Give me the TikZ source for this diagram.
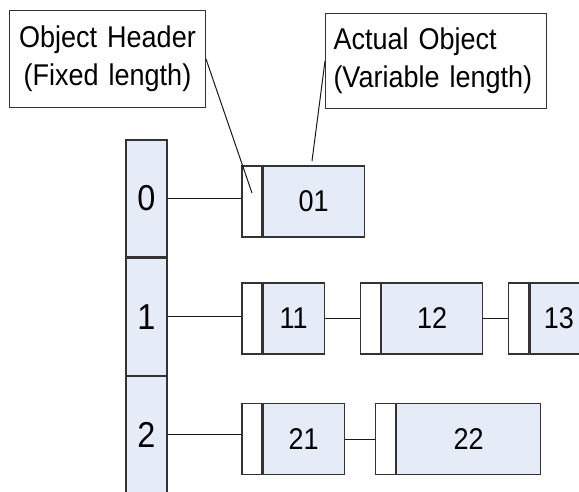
\documentclass[tikz,border=0pt]{standalone}
\usepackage{fontspec}
\setmainfont{Liberation Sans}[FakeStretch=0.9]
\usetikzlibrary{positioning}
\definecolor{objblue}{RGB}{230,236,247}

\begin{document}
\begin{tikzpicture}[x=1pt, y=-1pt, node distance=0pt and 30pt, font=\fontsize{30}{38}\selectfont]
\tikzstyle{slot} = [rectangle, draw=black!80, line width=1.2pt, fill=objblue, minimum width=41pt, minimum height=117pt, inner sep=0pt, font=\fontsize{36}{40}\selectfont]
\tikzstyle{hdr} = [rectangle, draw=black!80, line width=1.2pt, fill=white, minimum width=20pt, minimum height=71pt, inner sep=0pt]
\tikzstyle{body} = [rectangle, draw=black!80, line width=1.2pt, fill=objblue, minimum height=71pt, inner sep=0pt]
\tikzstyle{callout} = [rectangle, draw=black!80, line width=1pt, fill=white, inner ysep=6pt, anchor=north west]
\tikzstyle{link} = [black!90, line width=1pt]
\useasboundingbox (0,0) rectangle (579,491);
\clip (0,0) rectangle (579,491);
  % index column
  \node[slot] (s0) at (146.5,198.5) {0};
  \node[slot, below=of s0] (s1) {1};
  \node[slot, below=of s1] (s2) {2};
  % row 0
  \node[hdr] (h01) at (252,201.5) {};
  \node[body, minimum width=101pt, right=0pt of h01] (o01) {01};
  % row 1
  \node[hdr] (h11) at (252,318.5) {};
  \node[body, minimum width=61pt, right=0pt of h11] (o11) {11};
  \node[hdr, right=35pt of o11] (h12) {};
  \node[body, minimum width=101pt, right=0pt of h12] (o12) {12};
  \node[hdr, right=25pt of o12] (h13) {};
  \node[body, minimum width=58pt, right=0pt of h13] (o13) {13};
  % row 2
  \node[hdr] (h21) at (252,439) {};
  \node[body, minimum width=81pt, right=0pt of h21] (o21) {21};
  \node[hdr, right=30pt of o21] (h22) {};
  \node[body, minimum width=144pt, right=0pt of h22] (o22) {22};
  % links
  \draw[link] (s0.east) -- (s0.east -| h01.west);
  \draw[link] (s1.east) -- (s1.east -| h11.west);
  \draw[link] (s2.east) -- (s2.east -| h21.west);
  \draw[link] (o11.east) -- (h12.west);
  \draw[link] (o12.east) -- (h13.west);
  \draw[link] (o21.east) -- (h22.west);
  % callouts
  \node[callout, align=center, text width=184pt, inner xsep=6pt, minimum height=97pt] (c1) at (9,10) {Object Header\\(Fixed length)};
  \node[callout, align=left, text width=205pt, inner xsep=8pt, minimum height=95pt] (c2) at (325,13) {Actual Object\\(Variable length)};
  \coordinate (p1) at (252,193);
  \coordinate (p2) at (312,161);
  \draw[link] (c1.east) -- (p1);
  \draw[link] (c2.west) -- (p2);
\end{tikzpicture}
\end{document}
